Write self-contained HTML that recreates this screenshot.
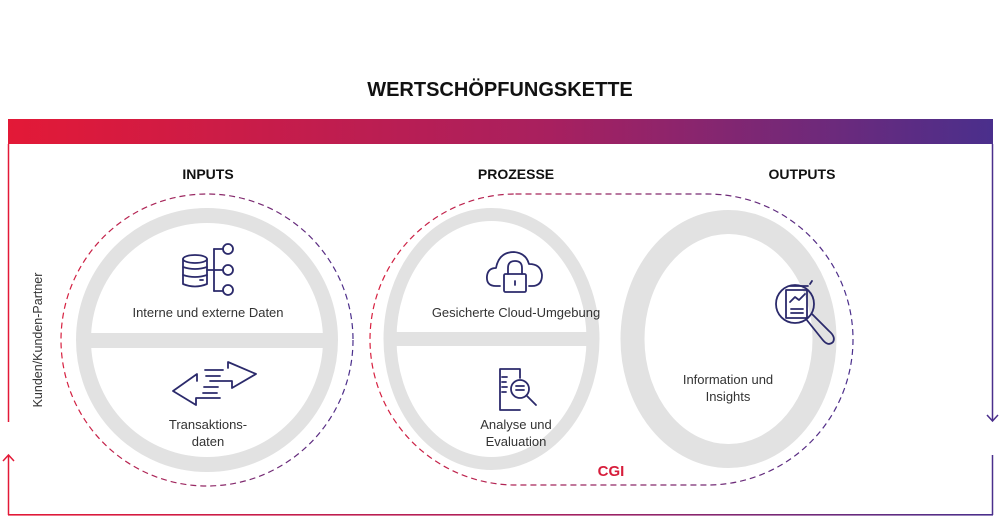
<!DOCTYPE html>
<html><head><meta charset="utf-8"><style>
html,body{margin:0;padding:0;background:#fff;}
svg{display:block;}
text{font-family:"Liberation Sans",Arial,sans-serif;}
</style></head><body>
<svg width="1000" height="516" viewBox="0 0 1000 516" xmlns="http://www.w3.org/2000/svg">
<defs>
<linearGradient id="g" x1="0" x2="1" y1="0" y2="0">
<stop offset="0" stop-color="#e31937"/><stop offset="0.55" stop-color="#a8205f"/><stop offset="1" stop-color="#4a2f8c"/>
</linearGradient>
<linearGradient id="gd" gradientUnits="userSpaceOnUse" x1="0" x2="1000" y1="0" y2="0">
<stop offset="0" stop-color="#d8203f"/><stop offset="0.25" stop-color="#4a2f8c"/>
</linearGradient>
<linearGradient id="gd2" gradientUnits="userSpaceOnUse" x1="370" x2="853" y1="0" y2="0">
<stop offset="0" stop-color="#d8203f"/><stop offset="1" stop-color="#4a2f8c"/>
</linearGradient>
<linearGradient id="gd1" gradientUnits="userSpaceOnUse" x1="61" x2="353" y1="0" y2="0">
<stop offset="0" stop-color="#d8203f"/><stop offset="1" stop-color="#4a2f8c"/>
</linearGradient>
</defs>
<text x="500" y="96" text-anchor="middle" font-size="20" font-weight="bold" fill="#111">WERTSCHÖPFUNGSKETTE</text>
<rect x="8" y="119" width="985" height="25" fill="url(#g)"/>
<!-- frame lines -->
<line x1="8.5" y1="144" x2="8.5" y2="422" stroke="#e31937" stroke-width="1.5"/>
<line x1="8.5" y1="456" x2="8.5" y2="515" stroke="#e31937" stroke-width="1.5"/>
<polyline points="3,461 8.5,455 14,461" fill="none" stroke="#e31937" stroke-width="1.5"/>
<rect x="8" y="514" width="985" height="1.6" fill="url(#g)"/>
<line x1="992.5" y1="144" x2="992.5" y2="421" stroke="#4a2f8c" stroke-width="1.5"/>
<polyline points="987,415 992.5,421 998,415" fill="none" stroke="#4a2f8c" stroke-width="1.5"/>
<line x1="992.5" y1="455" x2="992.5" y2="515" stroke="#4a2f8c" stroke-width="1.5"/>

<text x="208" y="179" text-anchor="middle" font-size="14" font-weight="bold" fill="#111">INPUTS</text>
<text x="516" y="179" text-anchor="middle" font-size="14" font-weight="bold" fill="#111">PROZESSE</text>
<text x="802" y="179" text-anchor="middle" font-size="14" font-weight="bold" fill="#111">OUTPUTS</text>

<text transform="translate(42,340) rotate(-90)" text-anchor="middle" font-size="12.5" fill="#333">Kunden/Kunden-Partner</text>

<!-- dashed outlines -->
<circle cx="207" cy="340" r="146" fill="none" stroke="url(#gd1)" stroke-width="1.2" stroke-dasharray="6,4"/>
<rect x="370" y="194" width="483" height="291" rx="145.5" fill="none" stroke="url(#gd2)" stroke-width="1.2" stroke-dasharray="6,4"/>

<!-- gray rings -->
<ellipse cx="207" cy="340" rx="123.5" ry="124.5" fill="none" stroke="#e2e2e2" stroke-width="15"/>
<rect x="88" y="333" width="240" height="15" fill="#e2e2e2"/>
<ellipse cx="491.5" cy="339" rx="101.5" ry="124.5" fill="none" stroke="#e2e2e2" stroke-width="13"/>
<rect x="392" y="332" width="200" height="14" fill="#e2e2e2"/>
<ellipse cx="728.5" cy="339" rx="96" ry="117" fill="none" stroke="#e2e2e2" stroke-width="24"/>

<!-- texts -->
<g font-size="13" fill="#333" text-anchor="middle">
<text x="208" y="317">Interne und externe Daten</text>
<text x="208" y="429">Transaktions-</text>
<text x="208" y="446">daten</text>
<text x="516" y="317">Gesicherte Cloud-Umgebung</text>
<text x="516" y="429">Analyse und</text>
<text x="516" y="446">Evaluation</text>
<text x="728" y="384">Information und</text>
<text x="728" y="401">Insights</text>
</g>
<text x="611" y="476" text-anchor="middle" font-size="15" font-weight="bold" fill="#d71e3c">CGI</text>

<!-- icons -->
<g fill="none" stroke="#2b2a6b" stroke-width="1.8" stroke-linejoin="round" stroke-linecap="round">
<!-- database -->
<ellipse cx="195" cy="259" rx="12" ry="4"/>
<path d="M183 259 V284 Q195 289 207 284 V259"/>
<path d="M183 267 Q195 271 207 267"/><path d="M183 275 Q195 279 207 275"/>
<path d="M200 280 h3"/>
<path d="M207 270 H214"/><path d="M214 249 V291"/>
<path d="M214 249 h9"/><path d="M214 270 h9"/><path d="M214 291 h9"/>
<circle cx="228" cy="249" r="5" fill="#fff"/><circle cx="228" cy="270" r="5" fill="#fff"/><circle cx="228" cy="290" r="5" fill="#fff"/>
<!-- arrows -->
<path d="M228 368 V362 L256 374 L232 388 V381 H210"/>
<path d="M197 381 V374 L173 391 L196 405 V398 H220"/>
<path d="M205 370 h18 M206 376 h14 M204 387 h14 M203 393 h14"/>
<!-- cloud lock -->
<path d="M500 286 H496 Q486 286 487 276 Q488 268 496 268 Q499 252 514 252 Q526 253 529 264 Q541 264 542 275 Q542 286 532 286 H529"/>
<rect x="504" y="274" width="22" height="18" rx="1.5"/>
<path d="M508 274 V268 Q508 261 515 261 Q522 261 522 268 V274"/>
<path d="M515 281 v4"/>
<!-- document search -->
<path d="M520 378 V369 H500 V410 H520"/>
<path d="M502 377 h5 M502 382 h4 M502 387 h5 M502 392 h4"/>
<circle cx="520" cy="389" r="9"/>
<path d="M516 386 h8 M516 390 h8"/>
<path d="M527 396 L536 405"/>
<!-- report magnifier -->
<circle cx="795" cy="304" r="19"/>
<rect x="786" y="290" width="21" height="28"/>
<path d="M790 286 h18 M812 281 l-2 3"/>
<path d="M790 302 l5 -5 l4 3 l6 -6"/>
<path d="M791 309 h12 M791 313 h12"/>
<path d="M806 319 L822 339 Q828 347 833 342 Q836 337 829 331 L812 314"/>
</g>
</svg>
</body></html>
